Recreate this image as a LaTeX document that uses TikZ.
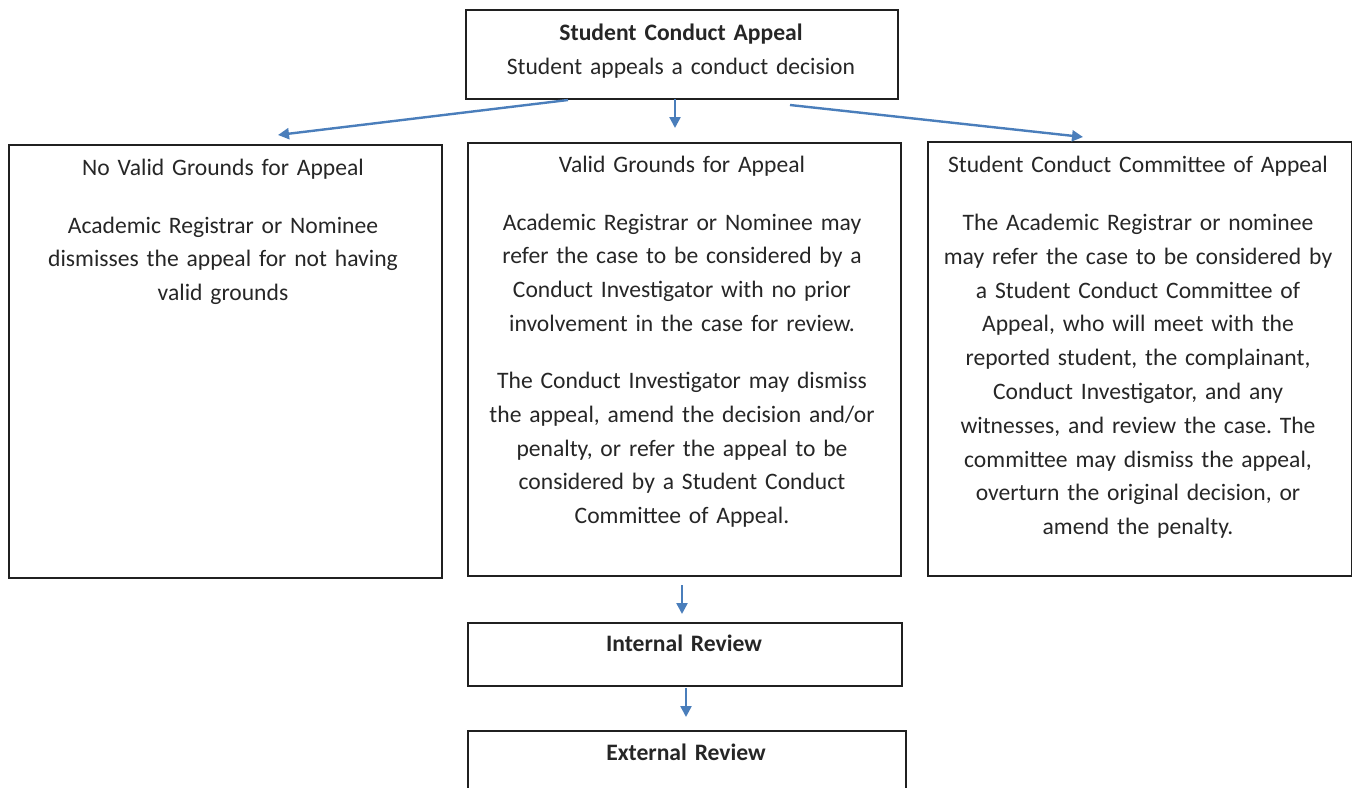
\documentclass[tikz,border=0pt]{standalone}
\usepackage{fontspec}
\setmainfont{Carlito}
\usetikzlibrary{arrows.meta}
\definecolor{arrowblue}{HTML}{4A7EBB}
\definecolor{boxline}{HTML}{202020}
\frenchspacing
\tikzset{
  box/.style={draw=boxline, line width=1pt, anchor=north west, inner sep=0pt, fill=none},
  txt/.style={anchor=base, inner sep=0pt, align=center, text width=210pt,
    font=\fontsize{11.8}{16.9}\selectfont\frenchspacing, text=black!85},
  flow/.style={draw=arrowblue, line width=1.2pt, -{Triangle[length=5.5pt,width=5.5pt]}},
}
\begin{document}
\begin{tikzpicture}[x=0.5pt,y=-0.5pt]
\useasboundingbox (0,0) rectangle (1352,787);
\clip (0,0) rectangle (1352,787);
% boxes
\node[box, minimum width=216pt, minimum height=44.5pt] (top) at (465,9) {};
\node[box, minimum width=216.5pt, minimum height=216.5pt] (left) at (8,144) {};
\node[box, minimum width=216.5pt, minimum height=216.5pt] (mid) at (467,142) {};
\node[box, minimum width=212pt, minimum height=217pt] (right) at (927,141) {};
\node[box, minimum width=217pt, minimum height=31.5pt] (internal) at (467,622) {};
\node[box, minimum width=219pt, minimum height=40pt] (external) at (467,730) {};
% texts
\node[txt] (topt) at (681,40.5) {\textbf{Student Conduct Appeal}\\Student appeals a conduct decision};
\node[txt] (leftt) at (223,175) {No Valid Grounds for Appeal};
\node[txt] (leftb) at (223,233) {Academic Registrar or Nominee\\dismisses the appeal for not having\\valid grounds};
\node[txt] (midt) at (682,172.5) {Valid Grounds for Appeal};
\node[txt] (midb1) at (682,230) {Academic Registrar or Nominee may\\refer the case to be considered by a\\Conduct Investigator with no prior\\involvement in the case for review.};
\node[txt] (midb2) at (682,388.5) {The Conduct Investigator may dismiss\\the appeal, amend the decision and/or\\penalty, or refer the appeal to be\\considered by a Student Conduct\\Committee of Appeal.};
\node[txt] (rightt) at (1138,172.5) {Student Conduct Committee of Appeal};
\node[txt] (rightb) at (1138,230.5) {The Academic Registrar or nominee\\may refer the case to be considered by\\a Student Conduct Committee of\\Appeal, who will meet with the\\reported student, the complainant,\\Conduct Investigator, and any\\witnesses, and review the case. The\\committee may dismiss the appeal,\\overturn the original decision, or\\amend the penalty.};
\node[txt] (intt) at (684,651.5) {\textbf{Internal Review}};
\node[txt] (extt) at (686,760) {\textbf{External Review}};
% connector ends
\coordinate (a1s) at (568,100);
\coordinate (a1e) at (278,135);
\coordinate (a2s) at (675,99);
\coordinate (a2e) at (675,128);
\coordinate (a3s) at (790,105);
\coordinate (a3e) at (1083,137);
\coordinate (a4s) at (682,585);
\coordinate (a4e) at (682,614);
\coordinate (a5s) at (686,688);
\coordinate (a5e) at (686,717);
\draw[flow] (a1s) -- (a1e);
\draw[flow] (a2s) -- (a2e);
\draw[flow] (a3s) -- (a3e);
\draw[flow] (a4s) -- (a4e);
\draw[flow] (a5s) -- (a5e);
\end{tikzpicture}
\end{document}
